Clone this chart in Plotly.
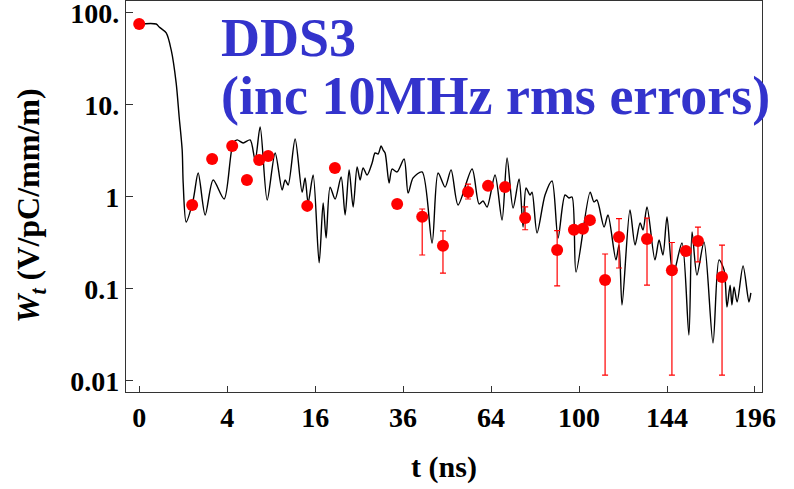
import numpy as np
import plotly.graph_objects as go

# ---- wake curve (t in ns, W_t in V/pC/mm/m) ----
curve_t = [0, 0.149, 0.207, 0.377, 0.529, 0.707, 0.826, 0.955, 1.0, 1.141,
           1.506, 1.798, 2.25, 2.829, 3.732, 4.564, 4.961, 5.587, 6.364, 6.95,
           7.563, 8.463, 9.554, 10.56, 11.01, 11.47, 12.57, 13.72, 14.23, 14.75,
           15.64, 16.74, 17.49, 18.06, 18.84, 19.84, 21.08, 21.92, 22.78, 23.66,
           24.55, 25.23, 25.92, 26.85, 28.04, 28.77, 29.51, 30.25, 30.75, 31.26,
           32.28, 33.06, 34.38, 36.27, 37.38, 38.78, 41.37, 44.34, 46.18, 48.37,
           50.28, 52.56, 57.28, 59.71, 61.12, 62.55, 65.46, 68.06, 69.95, 72.25,
           74.59, 76.17, 77.36, 78.97, 79.78, 81.82, 85.14, 88.1, 90.68, 93.74,
           95.51, 96.85, 98.64, 105.1, 106.9, 108.3, 111.7, 113.6, 117.5, 119.0,
           120.5, 124.5, 127.1, 129.7, 131.2, 133.3, 137.5, 139.7, 141.8, 144.0,
           147.3, 152.3, 156.2, 158.0, 160.8, 164.9, 170.2, 173.8, 176.8, 178.6,
           180.5, 181.6, 182.9, 184.8, 188.5, 192.2, 193.4]
curve_w = [75.9, 75.9, 70.4, 60.7, 39.6, 17.3, 7.41, 3.24, 1.42, 0.535,
           0.927, 1.82, 0.637, 1.53, 0.951, 3.86, 4.17, 3.86, 4.17, 2.52,
           5.77, 0.927, 3.01, 1.19, 1.53, 1.35, 4.27, 1.13, 1.61, 0.86,
           1.73, 0.192, 0.86, 0.358, 1.28, 0.951, 1.65, 0.637, 1.97, 0.778,
           2.12, 1.53, 2.07, 1.73, 2.34, 3.01, 2.93, 3.58, 3.24, 3.01,
           1.42, 2.01, 1.87, 2.59, 1.10, 1.61, 1.87, 0.316, 1.82, 1.28,
           1.97, 0.819, 2.01, 0.84, 0.905, 0.778, 1.73, 0.562, 2.65, 0.759,
           1.57, 0.472, 1.25, 1.05, 1.13, 0.406, 1.05, 1.49, 0.358, 1.05,
           0.975, 1.0, 0.153, 1.13, 0.883, 0.927, 0.472, 0.637, 0.207, 0.301,
           0.067, 0.722, 0.301, 0.521, 0.438, 0.778, 0.207, 0.341, 0.234, 0.606,
           0.142, 0.316, 0.0316, 0.417, 0.142, 0.324, 0.0259, 0.207, 0.161, 0.0637,
           0.110, 0.067, 0.105, 0.0722, 0.178, 0.0722, 0.0905]

# ---- measured points with error bars ----
pts_t = [0, 1.45, 2.75, 4.47, 6.0, 7.44, 8.6, 14.6, 19.8, 34.4,
         41.4, 47.7, 55.9, 62.9, 69.2, 77.0, 90.3, 97.7, 101.8, 105.0,
         112.2, 119.0, 133.3, 146.7, 154.5, 161.4, 175.6]
pts_w = [76, 0.82, 2.59, 3.58, 1.53, 2.52, 2.79, 0.80, 2.07, 0.84,
         0.61, 0.295, 1.13, 1.32, 1.28, 0.59, 0.265, 0.44, 0.45, 0.56,
         0.125, 0.367, 0.35, 0.16, 0.259, 0.333, 0.135]
pts_hi = [None, None, None, None, None, None, None, None, None, None,
          0.74, 0.427, 1.38, None, None, 0.78, 0.43, None, None, None,
          0.24, 0.58, 0.59, 0.32, None, 0.47, 0.30]
pts_lo = [None, None, None, None, None, None, None, None, None, None,
          0.234, 0.149, 0.95, None, None, 0.44, 0.108, None, None, None,
          0.0116, 0.169, 0.11, 0.0116, None, 0.197, 0.0116]

x_ticks = [0, 4, 16, 36, 64, 100, 144, 196]
y_ticks = [0.01, 0.1, 1, 10, 100]
y_ticktext = ["0.01", "0.1", "1", "10.", "100."]

err_plus = [(h - w) if h is not None else 0 for h, w in zip(pts_hi, pts_w)]
err_minus = [(w - l) if l is not None else 0 for l, w in zip(pts_lo, pts_w)]

FONT = "Liberation Serif"
BLUE = "rgb(51,51,204)"

fig = go.Figure()
fig.add_trace(go.Scatter(
    x=np.sqrt(curve_t), y=curve_w, mode="lines",
    line=dict(color="black", width=1.4, shape="spline", smoothing=0.8),
    showlegend=False, hoverinfo="skip"))
fig.add_trace(go.Scatter(
    x=np.sqrt(pts_t), y=pts_w, mode="markers",
    marker=dict(color="#ff0000", size=12),
    error_y=dict(type="data", array=err_plus, arrayminus=err_minus,
                 symmetric=False, color="#ff0000", thickness=1.2, width=3),
    showlegend=False))

fig.add_annotation(text="<b>DDS3</b>", xref="paper", yref="paper",
                   x=0.146, y=0.905, xanchor="left", yanchor="middle",
                   showarrow=False,
                   font=dict(family=FONT, size=54, color=BLUE))
fig.add_annotation(text="<b>(inc 10MHz rms errors)</b>", xref="paper", yref="paper",
                   x=0.146, y=0.757, xanchor="left", yanchor="middle",
                   showarrow=False,
                   font=dict(family=FONT, size=54, color=BLUE))
# y-axis title
fig.add_annotation(text="<b><i>W</i><sub><i>t</i></sub> (V/pC/mm/m)</b>",
                   xref="paper", yref="paper", x=-0.151, y=0.478,
                   xanchor="center", yanchor="middle", textangle=-90,
                   showarrow=False, font=dict(family=FONT, size=32, color="black"))

fig.update_layout(
    width=794, height=489,
    margin=dict(l=126, r=32, t=1, b=97),
    paper_bgcolor="white", plot_bgcolor="white",
    font=dict(family=FONT, color="black"),
    xaxis=dict(range=[-0.3, 14.16], tickvals=np.sqrt(x_ticks).tolist(),
               ticktext=[f"<b>{v}</b>" for v in x_ticks],
               ticks="inside", ticklen=6, tickcolor="#333", tickwidth=1,
               showline=True, linecolor="#333", linewidth=1.2, mirror=True,
               showgrid=False, zeroline=False, automargin=False,
               ticklabeloverflow="allow",
               tickfont=dict(family=FONT, size=28),
               title=dict(text="<b>t (ns)</b>", standoff=24,
                          font=dict(family=FONT, size=30))),
    yaxis=dict(type="log", range=[-2.12, 2.13], tickvals=y_ticks,
               ticktext=[f"<b>{t}</b>" for t in y_ticktext],
               ticks="inside", ticklen=7, tickcolor="#333", tickwidth=1,
               showline=True, linecolor="#333", linewidth=1.2, mirror=True,
               showgrid=False, zeroline=False, automargin=False,
               ticklabeloverflow="allow",
               tickfont=dict(family=FONT, size=28)),
)

fig.write_html("out.html", config={"displayModeBar": False},
               post_script="document.body.style.margin='0';document.body.style.overflow='hidden';")
